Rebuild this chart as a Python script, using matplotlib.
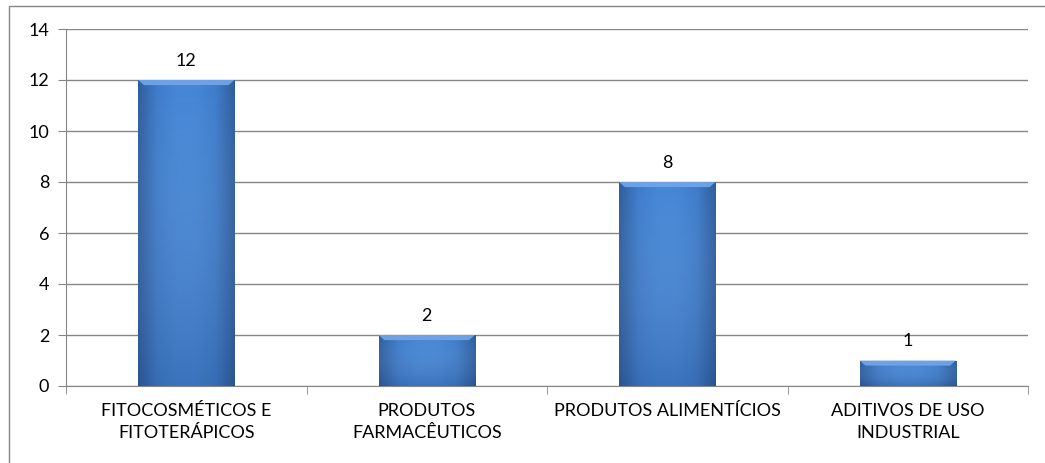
import numpy as np
import matplotlib.pyplot as plt
from matplotlib.patches import Rectangle, Polygon
from matplotlib.colors import LinearSegmentedColormap

categories = ["FITOCOSMÉTICOS E\nFITOTERÁPICOS", "PRODUTOS\nFARMACÊUTICOS",
              "PRODUTOS ALIMENTÍCIOS", "ADITIVOS DE USO\nINDUSTRIAL"]
values = [12, 2, 8, 1]
yticks = [0, 2, 4, 6, 8, 10, 12, 14]

plt.rcParams['font.family'] = ['Lato', 'DejaVu Sans']
grey = '#868686'

fig = plt.figure(figsize=(10.45, 4.63), dpi=100)
ax = fig.add_axes([66 / 1045, 1 - 386 / 463, 962 / 1045, 357 / 463])

# chart border, clipped by the figure on the right and bottom
fig.patches.append(Rectangle((9 / 1045, -0.05), 1.2, 1 - 6 / 463 + 0.05,
                             transform=fig.transFigure, fill=False,
                             edgecolor=grey, linewidth=1))

x = np.arange(len(values))
bars = ax.bar(x, values, width=0.40, color='#3F7BCB', zorder=2)

# bevel-like shading on each bar
cmap = LinearSegmentedColormap.from_list(
    'bev', ['#2F5E9E', '#3F7DCB', '#4586D5', '#4586D5', '#3F7DCB', '#2F5E9E'])
grad = np.linspace(0, 1, 200).reshape(1, -1)
vshade = LinearSegmentedColormap.from_list('v', [(0.1, 0.2, 0.4, 0.22), (1, 1, 1, 0)])
for b in bars:
    x0, w, h = b.get_x(), b.get_width(), b.get_height()
    im = ax.imshow(grad, extent=(x0, x0 + w, 0, h), aspect='auto', cmap=cmap,
                   zorder=3, interpolation='bilinear')
    im.set_clip_path(b)
    vert = np.linspace(0, 1, 100).reshape(-1, 1)
    shade = ax.imshow(vert, extent=(x0, x0 + w, 0, h), aspect='auto', cmap=vshade,
                      zorder=4, interpolation='bilinear', origin='lower')
    shade.set_clip_path(b)
    # light bevel across the top
    bev = 0.06 * w
    ax.add_patch(Polygon([(x0, h), (x0 + w, h), (x0 + w - bev, h - 0.2), (x0 + bev, h - 0.2)],
                         closed=True, color='#72A7E8', alpha=0.9, zorder=5, linewidth=0))
    ax.text(x0 + w / 2, h + 0.45, str(int(h)), ha='center', va='bottom',
            fontsize=13, color='black')

ax.set_xlim(-0.5, len(values) - 0.5)
ax.set_ylim(0, 14)
ax.set_yticks(yticks)
ax.set_xticks(x)
ax.set_xticklabels(categories, fontsize=13, linespacing=1.5)
ax.tick_params(axis='x', length=0, pad=12)
ax.set_xticks(np.arange(len(values) + 1) - 0.5, minor=True)
ax.tick_params(axis='x', which='minor', length=6, color=grey)
ax.tick_params(axis='y', length=6, color=grey, labelsize=13, pad=6)
ax.yaxis.grid(True, color=grey, linewidth=1, zorder=0)
ax.set_axisbelow(True)
for s in ['top', 'right']:
    ax.spines[s].set_visible(False)
for s in ['left', 'bottom']:
    ax.spines[s].set_color(grey)

fig.savefig('out.png', dpi=100)
